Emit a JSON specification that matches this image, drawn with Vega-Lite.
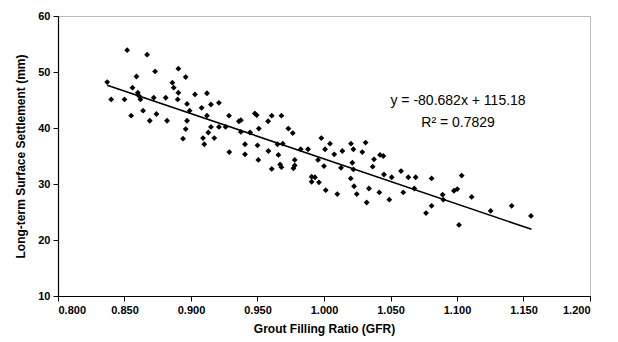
{
  "$schema": "https://vega.github.io/schema/vega-lite/v6.json",
  "width": 532,
  "height": 280,
  "autosize": {"type": "none"},
  "padding": {"left": 58, "top": 16, "right": 28, "bottom": 46},
  "config": {
    "font": "Liberation Sans",
    "view": {"stroke": "#777777", "strokeDash": [1, 1], "strokeWidth": 1},
    "axis": {
      "grid": false,
      "domainColor": "#000000",
      "domainWidth": 1.2,
      "tickColor": "#000000",
      "tickSize": 5,
      "labelFontSize": 11,
      "labelFontWeight": "bold",
      "labelColor": "#000000",
      "labelOverlap": false,
      "titleFontSize": 12,
      "titleFontWeight": "bold",
      "titleColor": "#000000"
    },
    "axisY": {"labelOverlap": false},
    "axisX": {"labelOverlap": false}
  },
  "datasets": {
    "pts": [
      {"gfr": 0.837, "s": 48.2}, {"gfr": 0.840, "s": 45.1}, {"gfr": 0.850, "s": 45.1}, {"gfr": 0.852, "s": 53.9},
      {"gfr": 0.855, "s": 42.2}, {"gfr": 0.856, "s": 47.2}, {"gfr": 0.859, "s": 49.2}, {"gfr": 0.860, "s": 46.3},
      {"gfr": 0.861, "s": 45.7}, {"gfr": 0.862, "s": 45.1}, {"gfr": 0.864, "s": 43.1}, {"gfr": 0.867, "s": 53.1},
      {"gfr": 0.869, "s": 41.3}, {"gfr": 0.872, "s": 45.4}, {"gfr": 0.873, "s": 50.1}, {"gfr": 0.874, "s": 42.5},
      {"gfr": 0.881, "s": 45.4}, {"gfr": 0.882, "s": 41.3}, {"gfr": 0.886, "s": 48.1}, {"gfr": 0.887, "s": 47.2},
      {"gfr": 0.890, "s": 45.1}, {"gfr": 0.8905, "s": 46.3}, {"gfr": 0.8905, "s": 50.6}, {"gfr": 0.894, "s": 38.1},
      {"gfr": 0.896, "s": 49.1}, {"gfr": 0.896, "s": 39.8}, {"gfr": 0.897, "s": 44.3}, {"gfr": 0.897, "s": 41.3},
      {"gfr": 0.899, "s": 43.1}, {"gfr": 0.903, "s": 46.0}, {"gfr": 0.908, "s": 43.6}, {"gfr": 0.909, "s": 38.2},
      {"gfr": 0.910, "s": 37.1}, {"gfr": 0.912, "s": 46.2}, {"gfr": 0.912, "s": 42.2}, {"gfr": 0.913, "s": 39.2},
      {"gfr": 0.915, "s": 44.2}, {"gfr": 0.915, "s": 40.2}, {"gfr": 0.9175, "s": 38.2}, {"gfr": 0.921, "s": 44.5},
      {"gfr": 0.921, "s": 40.2}, {"gfr": 0.926, "s": 40.2}, {"gfr": 0.9286, "s": 42.2}, {"gfr": 0.9288, "s": 35.7},
      {"gfr": 0.936, "s": 41.2}, {"gfr": 0.9375, "s": 41.4}, {"gfr": 0.9375, "s": 39.3}, {"gfr": 0.9406, "s": 37.1},
      {"gfr": 0.9406, "s": 35.3}, {"gfr": 0.9444, "s": 39.2}, {"gfr": 0.948, "s": 42.6}, {"gfr": 0.9494, "s": 42.3},
      {"gfr": 0.950, "s": 36.9}, {"gfr": 0.9506, "s": 34.3}, {"gfr": 0.951, "s": 39.9}, {"gfr": 0.958, "s": 41.2},
      {"gfr": 0.9582, "s": 35.9}, {"gfr": 0.9607, "s": 42.2}, {"gfr": 0.9607, "s": 32.7}, {"gfr": 0.965, "s": 37.1},
      {"gfr": 0.9657, "s": 35.2}, {"gfr": 0.967, "s": 33.5}, {"gfr": 0.968, "s": 42.2}, {"gfr": 0.968, "s": 33.0},
      {"gfr": 0.969, "s": 37.2}, {"gfr": 0.9732, "s": 39.9}, {"gfr": 0.9765, "s": 39.1}, {"gfr": 0.977, "s": 32.8},
      {"gfr": 0.978, "s": 33.3}, {"gfr": 0.978, "s": 34.3}, {"gfr": 0.9825, "s": 36.2}, {"gfr": 0.988, "s": 36.2},
      {"gfr": 0.9907, "s": 31.3}, {"gfr": 0.9932, "s": 31.2}, {"gfr": 0.9907, "s": 30.4}, {"gfr": 0.9962, "s": 30.3},
      {"gfr": 0.9955, "s": 34.3}, {"gfr": 0.998, "s": 38.2}, {"gfr": 1.000, "s": 33.2}, {"gfr": 1.0008, "s": 36.2},
      {"gfr": 1.0013, "s": 28.9}, {"gfr": 1.0045, "s": 37.2}, {"gfr": 1.0077, "s": 35.3}, {"gfr": 1.010, "s": 28.2},
      {"gfr": 1.0128, "s": 32.9}, {"gfr": 1.0138, "s": 35.9}, {"gfr": 1.0201, "s": 31.0}, {"gfr": 1.0203, "s": 37.2},
      {"gfr": 1.0213, "s": 33.8}, {"gfr": 1.0221, "s": 36.2}, {"gfr": 1.0221, "s": 32.6}, {"gfr": 1.0226, "s": 29.6},
      {"gfr": 1.0246, "s": 28.2}, {"gfr": 1.0288, "s": 35.7}, {"gfr": 1.0313, "s": 37.4}, {"gfr": 1.0321, "s": 26.7},
      {"gfr": 1.0338, "s": 29.2}, {"gfr": 1.0366, "s": 33.1}, {"gfr": 1.0376, "s": 34.4}, {"gfr": 1.0416, "s": 28.5},
      {"gfr": 1.0421, "s": 35.2}, {"gfr": 1.0446, "s": 35.0}, {"gfr": 1.0451, "s": 31.7}, {"gfr": 1.0491, "s": 27.2},
      {"gfr": 1.0509, "s": 31.2}, {"gfr": 1.0579, "s": 32.3}, {"gfr": 1.0596, "s": 28.5}, {"gfr": 1.0634, "s": 31.2},
      {"gfr": 1.0679, "s": 29.2}, {"gfr": 1.0689, "s": 31.2}, {"gfr": 1.0767, "s": 24.8}, {"gfr": 1.0809, "s": 31.0},
      {"gfr": 1.0809, "s": 26.1}, {"gfr": 1.0892, "s": 28.1}, {"gfr": 1.0897, "s": 27.2}, {"gfr": 1.0977, "s": 28.8},
      {"gfr": 1.1002, "s": 29.1}, {"gfr": 1.1015, "s": 22.7}, {"gfr": 1.1035, "s": 31.5}, {"gfr": 1.111, "s": 27.7},
      {"gfr": 1.1253, "s": 25.2}, {"gfr": 1.1411, "s": 26.1}, {"gfr": 1.1556, "s": 24.3}
    ],
    "trend": [
      {"gfr": 0.837, "s": 47.65},
      {"gfr": 1.156, "s": 21.91}
    ],
    "eq": [
      {"line": 0, "label": "y = -80.682x + 115.18"},
      {"line": 1, "label": "R² = 0.7829"}
    ]
  },
  "layer": [
    {
      "data": {"name": "pts"},
      "mark": {"type": "point", "shape": "diamond", "filled": true, "color": "#000000", "size": 34, "opacity": 1},
      "encoding": {
        "x": {
          "field": "gfr", "type": "quantitative",
          "scale": {"domain": [0.8, 1.2], "nice": false, "zero": false},
          "axis": {"values": [0.8, 0.85, 0.9, 0.95, 1.0, 1.05, 1.1, 1.15, 1.2], "labelOverlap": false, "format": ".3f", "labelPadding": 3, "titlePadding": 8, "title": "Grout Filling Ratio (GFR)"}
        },
        "y": {
          "field": "s", "type": "quantitative",
          "scale": {"domain": [10, 60], "nice": false, "zero": false},
          "axis": {"values": [10, 15, 20, 25, 30, 35, 40, 45, 50, 55, 60], "tickCount": 10, "labelOverlap": false, "labelBound": false, "labelPadding": 3, "titlePadding": 10, "title": "Long-term Surface Settlement (mm)"}
        }
      }
    },
    {
      "data": {"name": "trend"},
      "mark": {"type": "line", "color": "#000000", "strokeWidth": 1.6},
      "encoding": {
        "x": {"field": "gfr", "type": "quantitative"},
        "y": {"field": "s", "type": "quantitative", "scale": {"domain": [10, 60], "nice": false, "zero": false}, "axis": null}
      }
    },
    {
      "data": {"name": "eq"},
      "mark": {"type": "text", "fontSize": 14, "color": "#000000", "align": "center", "baseline": "middle"},
      "encoding": {
        "x": {"datum": 1.1008, "type": "quantitative"},
        "y": {"field": "line", "type": "quantitative", "scale": {"domain": [0, 1], "range": [85, 107]}, "axis": null},
        "text": {"field": "label"}
      }
    }
  ],
  "resolve": {"scale": {"y": "independent"}, "axis": {"y": "independent"}}
}
